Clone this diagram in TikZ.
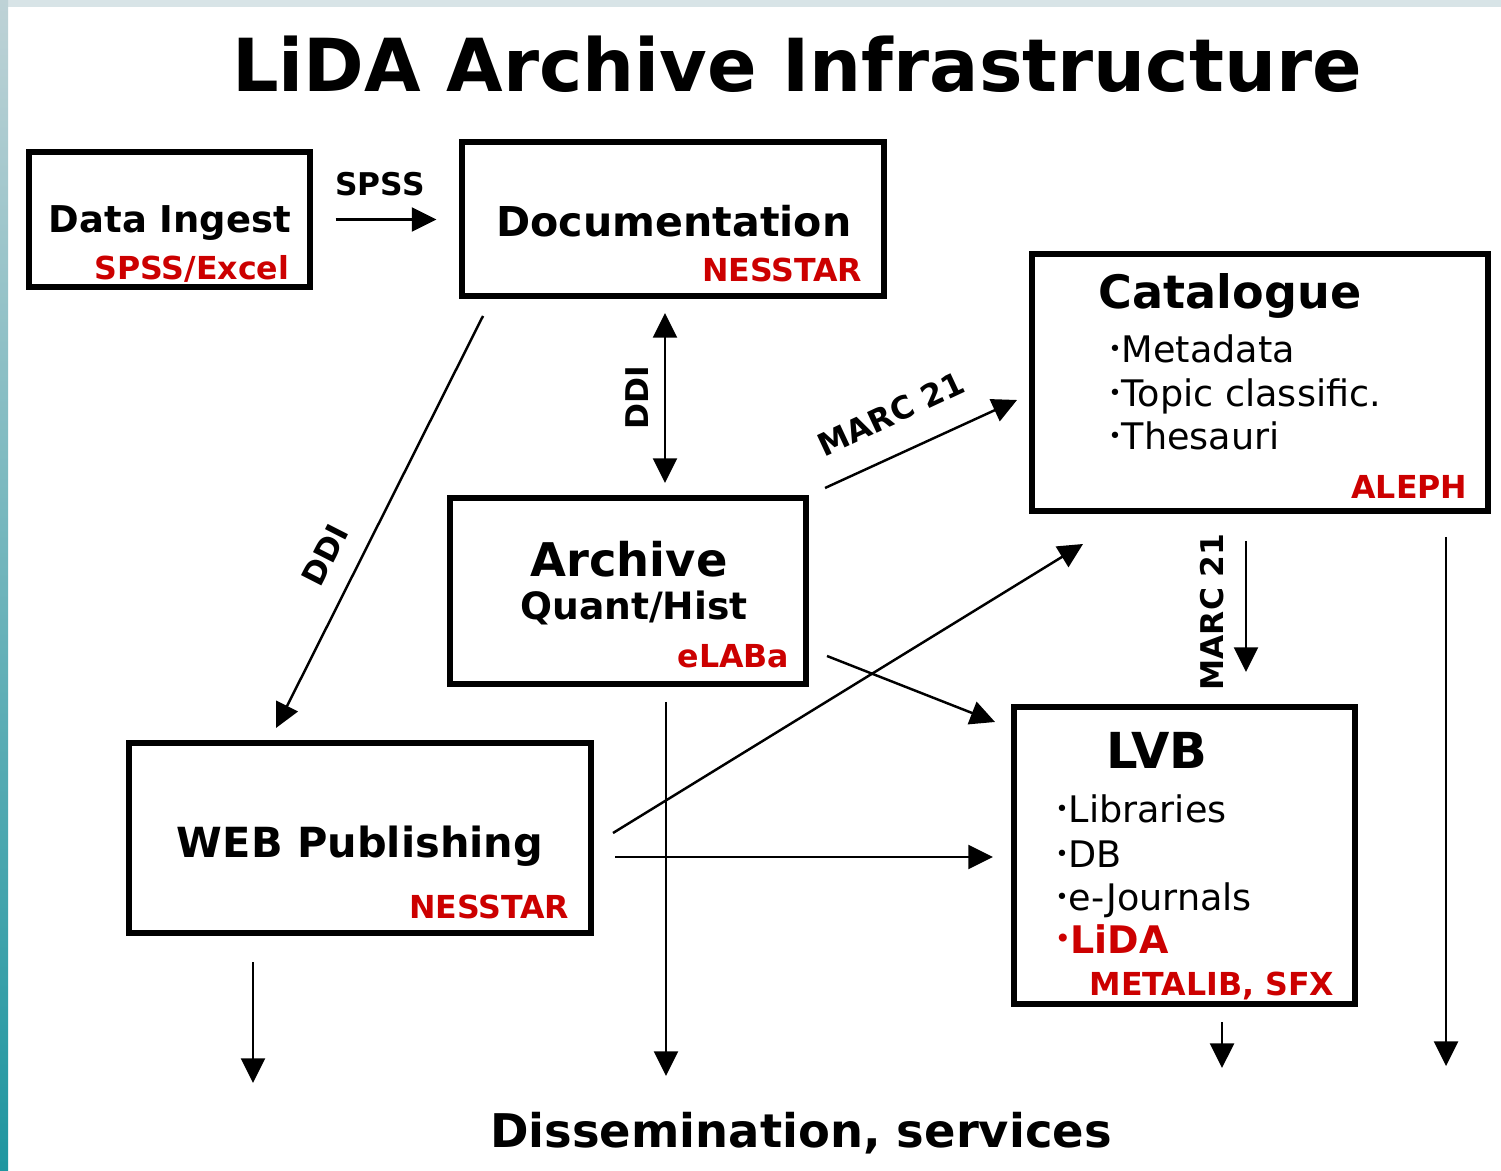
\documentclass[tikz,border=0pt]{standalone}
\usepackage{fontspec}
\setmainfont{DejaVu Sans}
\usetikzlibrary{arrows.meta,positioning,calc}

\definecolor{tagred}{RGB}{204,0,0}
\definecolor{stripeteal}{RGB}{30,150,160}
\definecolor{stripegrey}{RGB}{190,210,214}

\newcommand{\bul}{\raisebox{0.3ex}{\scalebox{0.6}{•}}}

\tikzset{
  box/.style={draw, line width=1.7pt, inner sep=0pt},
  boxtitle/.style={font=\bfseries\fontsize{13.2}{15}\selectfont, inner sep=0pt, anchor=base},
  tag/.style={text=tagred, font=\bfseries\fontsize{9.0}{11}\selectfont, inner sep=0pt, anchor=base east},
  item/.style={font=\fontsize{10.4}{12}\selectfont, inner sep=0pt, anchor=base west},
  flow/.style={line width=0.7pt, -{Triangle[length=7pt,width=6.8pt]}},
  flowlabel/.style={font=\bfseries\fontsize{8.9}{10}\selectfont, inner sep=0pt},
}

\begin{document}
\begin{tikzpicture}[x=0.01cm,y=-0.01cm]
  % background
  \fill[white] (0,0) rectangle (1501,1171);
  \useasboundingbox (0,0) rectangle (1501,1171);
  \fill[stripegrey!60] (0,0) rectangle (1501,7);
  \shade[top color=stripegrey, bottom color=stripeteal] (0,0) rectangle (8,1171);

  \node[font=\bfseries\fontsize{20.8}{24}\selectfont, inner sep=0pt, anchor=base] (title) at (797,92) {LiDA Archive Infrastructure};

  % boxes
  \node[box, minimum width=2.80cm, minimum height=1.34cm] (ingest) at (169.5,219.5) {};
  \node[box, minimum width=4.21cm, minimum height=1.53cm] (doc)    at (673,219) {};
  \node[box, minimum width=4.55cm, minimum height=2.56cm] (cat)    at (1260,382.5) {};
  \node[box, minimum width=3.55cm, minimum height=1.85cm] (arch)   at (628,591) {};
  \node[box, minimum width=3.40cm, minimum height=2.96cm] (lvb)    at (1184.5,855.5) {};
  \node[box, minimum width=4.61cm, minimum height=1.89cm] (web)    at (360,838) {};

  % box texts
  \node[boxtitle, font=\bfseries\fontsize{10.5}{12}\selectfont] (ingestname) at (170,233) {Data Ingest};
  \node[tag] (ingesttool) at (290,280) {SPSS/Excel};

  \node[boxtitle, font=\bfseries\fontsize{11.7}{13}\selectfont] (docname) at (674,237) {Documentation};
  \node[tag] (doctool) at (863,282) {NESSTAR};

  \node[boxtitle, font=\bfseries\fontsize{13.1}{15}\selectfont] (catname) at (1230,309) {Catalogue};
  \node[item] (cat1) at (1108,363) {\bul Metadata};
  \node[item] (cat2) at (1108,407) {\bul Topic classific.};
  \node[item] (cat3) at (1108,450) {\bul Thesauri};
  \node[tag] (cattool) at (1468,499) {ALEPH};

  \node[boxtitle] (archname) at (629,577) {Archive};
  \node[boxtitle, font=\bfseries\fontsize{10.7}{12}\selectfont] (archsub) at (634,620) {Quant/Hist};
  \node[tag] (archtool) at (790,668) {eLABa};

  \node[boxtitle, font=\bfseries\fontsize{14.1}{16}\selectfont] (lvbname) at (1157,768) {LVB};
  \node[item] (lvb1) at (1055,823) {\bul Libraries};
  \node[item] (lvb2) at (1055,867) {\bul DB};
  \node[item] (lvb3) at (1055,910) {\bul e-Journals};
  \node[item, text=tagred, font=\bfseries\fontsize{10.8}{12}\selectfont] (lvb4) at (1055,953) {\bul LiDA};
  \node[tag] (lvbtool) at (1335,995) {METALIB, SFX};

  \node[boxtitle, font=\bfseries\fontsize{11.8}{14}\selectfont] (webname) at (360,857) {WEB Publishing};
  \node[tag] (webtool) at (570,918) {NESSTAR};

  \node[boxtitle] (out) at (801,1147) {Dissemination, services};

  % connector ends
  \coordinate (ddiTop)   at (665,313);
  \coordinate (ddiBot)   at (665,483);
  \coordinate (docFoot)  at (483,316);
  \coordinate (webHead)  at (276,728);
  \coordinate (archOut)  at (825,488);
  \coordinate (catIn)    at (1017,400);
  \coordinate (archSide) at (827,656);
  \coordinate (lvbIn)    at (995,722);
  \coordinate (webUp)    at (613,833);
  \coordinate (catFoot)  at (1083,544);
  \coordinate (webSide)  at (615,857);
  \coordinate (lvbLeft)  at (993,857);
  \coordinate (catDown)  at (1246,541);
  \coordinate (lvbTop)   at (1246,672);
  \coordinate (catEnd)   at (1446,537);
  \coordinate (catOut)   at (1446,1066);
  \coordinate (archEnd)  at (666,702);
  \coordinate (archOutB) at (666,1076);
  \coordinate (webEnd)   at (253,962);
  \coordinate (webOut)   at (253,1083);
  \coordinate (lvbEnd)   at (1222,1022);
  \coordinate (lvbOut)   at (1222,1068);

  % connectors
  \draw[flow, shorten <=0.23cm, shorten >=0.23cm] (ingest.east) -- (ingest.east -| doc.west);
  \draw[flow, {Triangle[length=7pt,width=6.8pt]}-{Triangle[length=7pt,width=6.8pt]}] (ddiTop) -- (ddiBot);
  \draw[flow] (docFoot) -- (webHead);
  \draw[flow] (archOut) -- (catIn);
  \draw[flow] (archSide) -- (lvbIn);
  \draw[flow] (webUp) -- (catFoot);
  \draw[flow] (webSide) -- (lvbLeft);
  \draw[flow] (catDown) -- (lvbTop);
  \draw[flow] (catEnd) -- (catOut);
  \draw[flow] (archEnd) -- (archOutB);
  \draw[flow] (webEnd) -- (webOut);
  \draw[flow] (lvbEnd) -- (lvbOut);

  % connector labels
  \node[flowlabel, anchor=base] (spsslabel) at (380,196) {SPSS};
  \node[flowlabel, rotate=90] (ddilabel) at (637,398) {DDI};
  \node[flowlabel, rotate=63] (ddiwlabel) at (325,555) {DDI};
  \node[flowlabel, rotate=25] (marclabel) at (891,414) {MARC 21};
  \node[flowlabel, rotate=90] (marcvlabel) at (1212,612) {MARC 21};
\end{tikzpicture}
\end{document}
